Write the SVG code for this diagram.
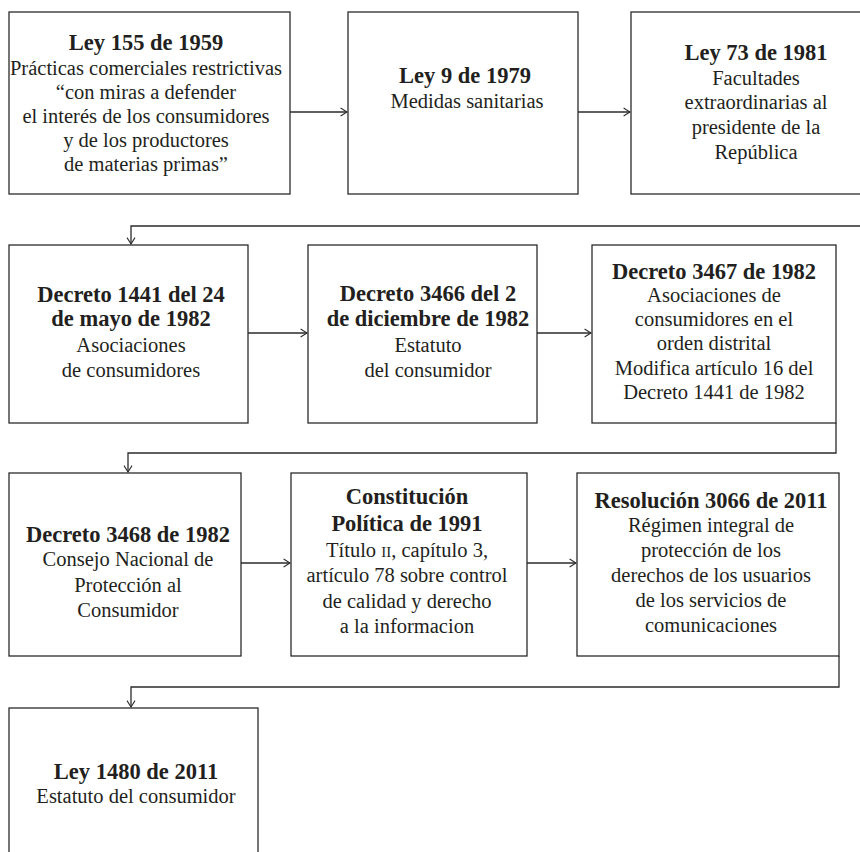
<svg xmlns="http://www.w3.org/2000/svg" width="860" height="852" viewBox="0 0 860 852">
<defs>
<style>
.box{fill:#fff;stroke:#2b2b2b;stroke-width:1.3}
.con{fill:none;stroke:#2b2b2b;stroke-width:1.3}
text{font-family:"Liberation Serif","DejaVu Serif",serif;fill:#231f20;text-anchor:middle}
.t{font-size:22.5px;font-weight:bold}
.b{font-size:20.5px}
.sc{font-size:15px}
</style>
<marker id="arr" viewBox="0 0 10 12" markerWidth="8" markerHeight="10" refX="9" refY="6" orient="auto" markerUnits="userSpaceOnUse">
<path d="M1,1 L9,6 L1,11" fill="none" stroke="#2b2b2b" stroke-width="1.3"/>
</marker>
</defs>
<rect width="860" height="852" fill="#fff"/>
<g id="connectors">
<line class="con" x1="290" y1="112" x2="347" y2="112" marker-end="url(#arr)"/>
<line class="con" x1="578" y1="112" x2="630" y2="112" marker-end="url(#arr)"/>
<polyline class="con" points="860,226 131,226 131,244" marker-end="url(#arr)"/>
<line class="con" x1="248" y1="333" x2="307" y2="333" marker-end="url(#arr)"/>
<line class="con" x1="537" y1="333" x2="591" y2="333" marker-end="url(#arr)"/>
<polyline class="con" points="836,423 836,453 128,453 128,472" marker-end="url(#arr)"/>
<line class="con" x1="241" y1="563" x2="290" y2="563" marker-end="url(#arr)"/>
<line class="con" x1="527" y1="563" x2="576" y2="563" marker-end="url(#arr)"/>
<polyline class="con" points="839,656 839,687 131,687 131,707" marker-end="url(#arr)"/>
</g>
<g id="n1">
<rect class="box" x="9" y="12" width="281" height="182"/>
<text class="t" x="146" y="50">Ley 155 de 1959</text>
<text class="b" x="146" y="75">Prácticas comerciales restrictivas</text>
<text class="b" x="146" y="99">“con miras a defender</text>
<text class="b" x="146" y="123">el interés de los consumidores</text>
<text class="b" x="146" y="147">y de los productores</text>
<text class="b" x="146" y="171">de materias primas”</text>
</g>
<g id="n2">
<rect class="box" x="348" y="12" width="230" height="182"/>
<text class="t" x="465" y="83">Ley 9 de 1979</text>
<text class="b" x="467" y="108">Medidas sanitarias</text>
</g>
<g id="n3">
<rect class="box" x="631" y="12" width="250" height="182"/>
<text class="t" x="756" y="60">Ley 73 de 1981</text>
<text class="b" x="756" y="85">Facultades</text>
<text class="b" x="756" y="109">extraordinarias al</text>
<text class="b" x="756" y="134">presidente de la</text>
<text class="b" x="756" y="159">República</text>
</g>
<g id="n4">
<rect class="box" x="9" y="245" width="239" height="178"/>
<text class="t" x="131" y="302">Decreto 1441 del 24</text>
<text class="t" x="131" y="326">de mayo de 1982</text>
<text class="b" x="131" y="352">Asociaciones</text>
<text class="b" x="131" y="377">de consumidores</text>
</g>
<g id="n5">
<rect class="box" x="308" y="245" width="229" height="178"/>
<text class="t" x="428" y="301">Decreto 3466 del 2</text>
<text class="t" x="428" y="326">de diciembre de 1982</text>
<text class="b" x="428" y="352">Estatuto</text>
<text class="b" x="428" y="377">del consumidor</text>
</g>
<g id="n6">
<rect class="box" x="592" y="245" width="244" height="178"/>
<text class="t" x="714" y="279">Decreto 3467 de 1982</text>
<text class="b" x="714" y="302">Asociaciones de</text>
<text class="b" x="714" y="326">consumidores en el</text>
<text class="b" x="714" y="350">orden distrital</text>
<text class="b" x="714" y="375">Modifica artículo 16 del</text>
<text class="b" x="714" y="399">Decreto 1441 de 1982</text>
</g>
<g id="n7">
<rect class="box" x="9" y="473" width="232" height="183"/>
<text class="t" x="128" y="542">Decreto 3468 de 1982</text>
<text class="b" x="128" y="566">Consejo Nacional de</text>
<text class="b" x="128" y="592">Protección al</text>
<text class="b" x="128" y="617">Consumidor</text>
</g>
<g id="n8">
<rect class="box" x="291" y="473" width="236" height="183"/>
<text class="t" x="407" y="504">Constitución</text>
<text class="t" x="407" y="531">Política de 1991</text>
<text class="b" x="407" y="557">Título <tspan class="sc">II</tspan>, capítulo 3,</text>
<text class="b" x="407" y="582">artículo 78 sobre control</text>
<text class="b" x="407" y="608">de calidad y derecho</text>
<text class="b" x="407" y="633">a la informacion</text>
</g>
<g id="n9">
<rect class="box" x="577" y="473" width="262" height="183"/>
<text class="t" x="711" y="508">Resolución 3066 de 2011</text>
<text class="b" x="711" y="532">Régimen integral de</text>
<text class="b" x="711" y="557">protección de los</text>
<text class="b" x="711" y="582">derechos de los usuarios</text>
<text class="b" x="711" y="607">de los servicios de</text>
<text class="b" x="711" y="632">comunicaciones</text>
</g>
<g id="n10">
<rect class="box" x="9" y="708" width="249" height="170"/>
<text class="t" x="136" y="779">Ley 1480 de 2011</text>
<text class="b" x="136" y="803">Estatuto del consumidor</text>
</g>
</svg>
